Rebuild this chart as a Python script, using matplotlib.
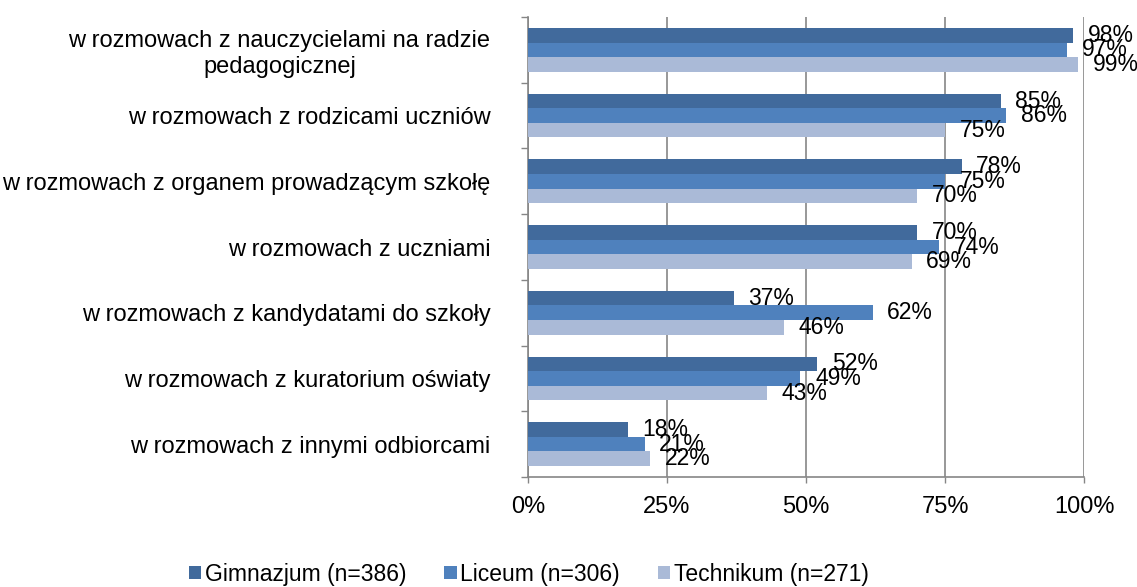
import numpy as np
import matplotlib
matplotlib.use('Agg')
from matplotlib import pyplot as plt
from matplotlib.ticker import FixedLocator, PercentFormatter

# data
categories = [
    'w rozmowach z nauczycielami na radzie\npedagogicznej',
    'w rozmowach z rodzicami uczniów',
    'w rozmowach z organem prowadzącym szkołę',
    'w rozmowach z uczniami',
    'w rozmowach z kandydatami do szkoły',
    'w rozmowach z kuratorium oświaty',
    'w rozmowach z innymi odbiorcami',
]
series_names = ['Gimnazjum (n=386)', 'Liceum (n=306)', 'Technikum (n=271)']
gimnazjum = [98, 85, 78, 70, 37, 52, 18]
liceum = [97, 86, 75, 74, 62, 49, 21]
technikum = [99, 75, 70, 69, 46, 43, 22]
x_ticks = [0, 25, 50, 75, 100]

colours = ['#416a9c', '#4f81bd', '#aabad7']
grey = '#868686'

plt.rcParams['font.family'] = ['Liberation Sans', 'DejaVu Sans']

fig = plt.figure(figsize=(11.37, 5.87), dpi=100)
ax = fig.add_axes([0.4644, 0.1874, 0.489, 0.7836])

y = np.arange(len(categories))
h = 0.222
for k, (vals, name, col) in enumerate(zip([gimnazjum, liceum, technikum],
                                          series_names, colours)):
    pos = y + (k - 1) * h
    ax.barh(pos, vals, height=h, color=col, label=name, zorder=3)
    for p, v in zip(pos, vals):
        ax.annotate(f'{v}%', (v, p), xytext=(10.5, 0), textcoords='offset points',
                    ha='left', va='center', fontsize=16.5, zorder=4)

ax.set_xlim(0, 100)
ax.set_ylim(len(categories) - 0.5, -0.5)

ax.xaxis.set_major_locator(FixedLocator(x_ticks))
ax.xaxis.set_major_formatter(PercentFormatter(decimals=0))
ax.xaxis.grid(True, color=grey, linewidth=1.2, zorder=0)
ax.tick_params(axis='x', direction='out', length=4.5, width=1, color=grey,
               labelsize=17, pad=9)

ax.set_yticks(y)
ax.set_yticklabels(categories)
ax.set_yticks(np.arange(len(categories) + 1) - 0.5, minor=True)
ax.tick_params(axis='y', which='major', length=0, labelsize=17, pad=27)
ax.tick_params(axis='y', which='minor', direction='out', length=5, width=1, color=grey)
ax.get_yticklabels()[0].set_multialignment('center')

for side in ['top', 'right']:
    ax.spines[side].set_visible(False)
for side in ['left', 'bottom']:
    ax.spines[side].set_color(grey)
    ax.spines[side].set_linewidth(1.2)

fig.legend(loc='center', bbox_to_anchor=(0.465, 0.022), ncol=3, frameon=False,
           fontsize=16.5, handlelength=0.55, handleheight=0.55, handletextpad=0.15,
           columnspacing=1.65, borderaxespad=0)

plt.savefig('out.png', dpi=100)
